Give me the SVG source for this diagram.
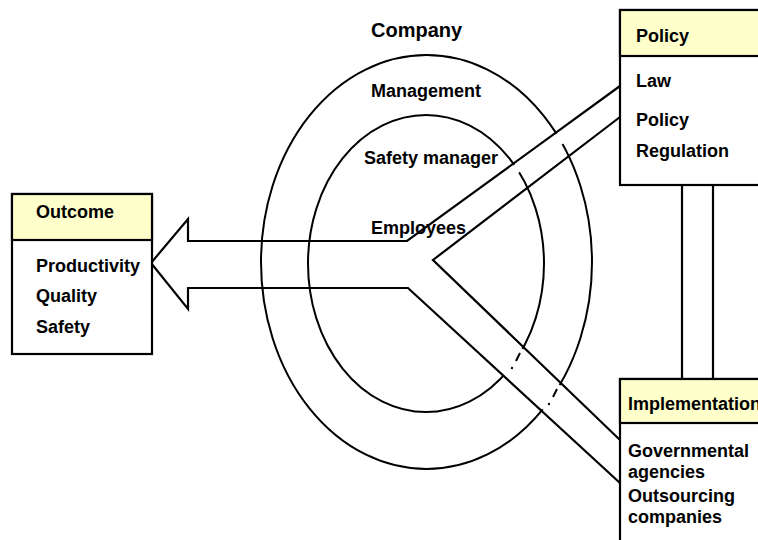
<svg xmlns="http://www.w3.org/2000/svg" width="758" height="540" viewBox="0 0 758 540">
<style>
text{font-family:"Liberation Sans",Arial,sans-serif;font-weight:bold;font-size:18px;fill:#000}
.box{fill:#fff;stroke:#000;stroke-width:2.2}
.hdr{fill:#FFFFCC;stroke:#000;stroke-width:2.2}
.ell{fill:none;stroke:#000;stroke-width:2}
.ln{fill:none;stroke:#000;stroke-width:2.2;stroke-linejoin:miter}
.cov{stroke:#fff;stroke-width:5;fill:none}
.dd{stroke:#000;stroke-width:2;fill:none}
</style>
<rect width="758" height="540" fill="#fff"/>
<g id="company">
<ellipse class="ell" cx="426.5" cy="262" rx="165.5" ry="207"/>
<ellipse class="ell" cx="426" cy="263.5" rx="118" ry="148.5"/>
<text x="371" y="37" style="font-size:20px">Company</text>
<text x="371" y="97">Management</text>
<text x="364" y="164">Safety manager</text>
<text x="371" y="234">Employees</text>
</g>
<g id="connectors">
<!-- gaps where ellipses pass under the bands -->
<path class="cov" d="M514,165 L519.5,172"/>
<path class="cov" d="M556,134 L562.5,144"/>
<path class="cov" d="M522.5,349 Q514,364 503.5,375"/>
<path class="cov" d="M559.5,385 Q552,398 542.5,409"/>
<path class="dd" d="M520,353 L516,361 M512.5,367 L511.5,369"/>
<path class="dd" d="M557,389 L553,397 M549.5,403 L548.5,405"/>
<path class="ln" d="M620,86 L407,241 L188,241 L188,219 L151,263 L188,309 L188,288 L408,288 L620,483"/>
<path class="ln" d="M620,117 L433,260 L620,440"/>
<line class="ln" x1="682" y1="185" x2="682" y2="379"/>
<line class="ln" x1="713" y1="185" x2="713" y2="379"/>
</g>
<g id="outcome">
<rect class="box" x="12" y="194" width="140" height="160"/>
<rect class="hdr" x="12" y="194" width="140" height="46"/>
<text x="36" y="218">Outcome</text>
<text x="36" y="272">Productivity</text>
<text x="36" y="302">Quality</text>
<text x="36" y="333">Safety</text>
</g>
<g id="policy">
<rect class="box" x="620" y="10" width="150" height="175"/>
<rect class="hdr" x="620" y="10" width="150" height="46"/>
<text x="636" y="42">Policy</text>
<text x="636" y="87">Law</text>
<text x="636" y="126">Policy</text>
<text x="636" y="157">Regulation</text>
</g>
<g id="implementation">
<rect class="box" x="620" y="379" width="150" height="180"/>
<rect class="hdr" x="620" y="379" width="150" height="44"/>
<text x="628" y="410">Implementation</text>
<text x="628" y="457">Governmental</text>
<text x="628" y="478">agencies</text>
<text x="628" y="502">Outsourcing</text>
<text x="628" y="523">companies</text>
</g>
</svg>
